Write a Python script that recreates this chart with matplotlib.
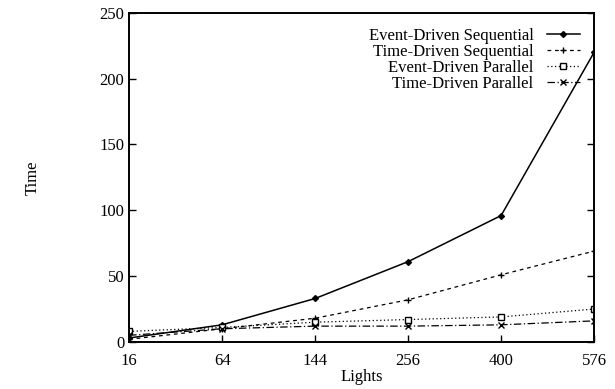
import numpy as np
import matplotlib.pyplot as plt

plt.rcParams['font.family'] = ['Liberation Serif', 'DejaVu Serif']

lights = [16, 64, 144, 256, 400, 576]
event_seq = [3, 13, 33, 61, 96, 220]
time_seq = [2, 10, 18, 32, 51, 69]
event_par = [8, 11, 15, 17, 19, 25]
time_par = [5, 10, 12, 12, 13, 16]

# x axis is evenly spaced in sqrt(lights)
xs = np.sqrt(lights)

fig = plt.figure(figsize=(6.15, 3.89), dpi=100)
ax = fig.add_axes([0.21, 0.121, 0.756, 0.846])

ax.plot(xs, event_seq, color='black', linestyle='-', linewidth=1.1,
        marker='D', markersize=3, label='Event-Driven Sequential')
ax.plot(xs, time_seq, color='black', linestyle=(0, (3, 3)), linewidth=0.9,
        marker='+', markersize=5, label='Time-Driven Sequential')
ax.plot(xs, event_par, color='black', linestyle=(0, (1, 2)), linewidth=0.9,
        marker='s', markersize=5, markerfacecolor='white', label='Event-Driven Parallel')
ax.plot(xs, time_par, color='black', linestyle=(0, (6, 2, 1, 2)), linewidth=0.9,
        marker='x', markersize=4, label='Time-Driven Parallel')

ax.set_xlim(xs[0], xs[-1])
ax.set_ylim(0, 250)
ax.set_xticks(xs)
ax.set_xticklabels([str(v) for v in lights])
ax.set_yticks([0, 50, 100, 150, 200, 250])
ax.tick_params(direction='in', top=False, right=True, length=5, labelsize=12, width=1)
ax.tick_params(axis='x', pad=8)
for s in ax.spines.values():
    s.set_linewidth(1.4)

ax.set_xlabel('Lights', fontsize=12, labelpad=0)
ax.set_ylabel('Time', fontsize=12, labelpad=42)

ax.legend(loc='upper right', frameon=False, markerfirst=False, fontsize=12,
          handlelength=2.0, labelspacing=0.0, borderaxespad=0.3,
          bbox_to_anchor=(0.995, 0.99))

fig.savefig('out.png', dpi=100)
